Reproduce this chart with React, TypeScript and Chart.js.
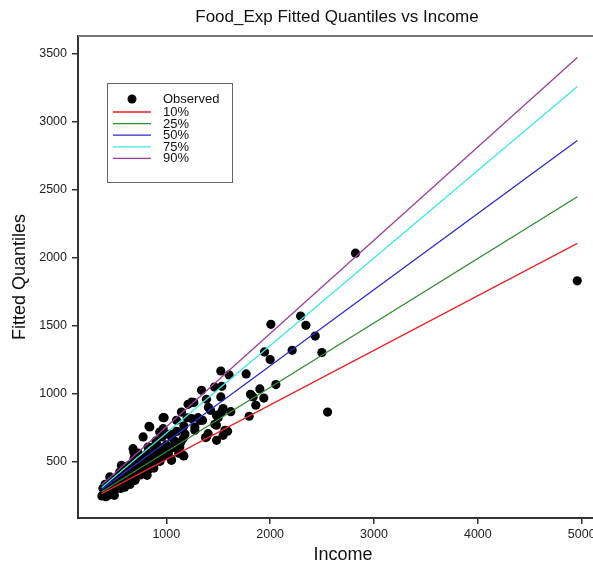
import React, { useEffect, useRef } from "react";
import { Chart, registerables } from "chart.js";

Chart.register(...registerables);

const FONT = "'Liberation Sans', Arial, Helvetica, sans-serif";

const chartTitle = "Food_Exp Fitted Quantiles vs Income";
const xTitle = "Income";
const yTitle = "Fitted Quantiles";

const xTicks = [1000, 2000, 3000, 4000, 5000];
const yTicks = [500, 1000, 1500, 2000, 2500, 3000, 3500];

// Observed points (income, food expenditure)
const incomeObs = [
  4957, 2822, 2007, 2293, 2344, 2434, 2498, 2212, 1946, 2000, 2553, 1769, 1525, 1605, 2055, 1901,
  1811, 1836, 1939, 1862, 1798, 1339, 1464, 1535, 1525, 1387, 1265, 1210, 1406, 1547, 1621, 1483,
  1306, 1146, 979, 1098, 834, 1169, 1275, 1349, 1467, 1403, 1378, 1547, 1590, 1169, 1050, 1098,
  937, 867, 815, 687, 713, 642, 568, 456, 391, 462, 1246, 1426, 1532, 969, 841, 1243, 1323, 1499,
  1483, 1564, 1387, 1484, 1275, 1162, 1050, 1130, 1162, 1050, 937, 906, 1002, 825, 777, 713, 680,
  400, 420, 440, 460, 480, 500, 510, 530, 540, 560, 580, 600, 610, 630, 650, 660, 680, 700, 720,
  740, 750, 770, 790, 800, 820, 840, 860, 880, 900, 920, 940, 960, 980, 1000, 390, 410, 430, 450,
  470, 490, 520, 550, 570, 590, 620, 640, 670, 690, 710, 730, 760, 780, 810, 830, 850, 870, 890,
  910, 950, 970, 990, 1020, 1040, 1080, 1100, 1120, 1180, 1200, 380, 420, 500, 560, 600, 650,
  620, 700, 760, 840, 880, 940, 1060, 1140,
];
const foodObs = [
  1827, 2030, 1507, 1568, 1500, 1421, 1299, 1316, 1304, 1248, 862, 1142, 1164, 1135, 1064, 1032,
  993, 973, 965, 912, 831, 1022, 1046, 1051, 973, 956, 932, 919, 895, 888, 865, 838,
  821, 862, 821, 801, 757, 760, 752, 801, 772, 703, 674, 691, 721, 539, 512, 605,
  520, 487, 397, 568, 495, 348, 471, 385, 250, 262, 936, 875, 862, 821, 752, 814, 801, 821,
  765, 728, 679, 654, 728, 667, 679, 605, 544, 507, 715, 630, 581, 605, 679, 556, 593,
  260, 290, 250, 300, 330, 290, 350, 320, 380, 340, 400, 360, 420, 390, 450, 410, 380, 470, 430,
  500, 400, 460, 520, 440, 560, 480, 600, 520, 650, 560, 600, 680, 540, 620, 300, 330, 270, 340,
  280, 370, 300, 420, 330, 440, 350, 470, 440, 520, 390, 560, 520, 430, 500, 440, 580, 470, 600,
  500, 560, 740, 700, 560, 700, 650, 720, 560, 700, 820, 245, 240, 250, 300, 310, 330,
  420, 360, 410, 530, 450, 500, 600, 640,
];

// Fitted quantile lines: endpoints
const lineIncome = [377, 4958];
const quantileLabels = ["10%", "25%", "50%", "75%", "90%"];
const quantileColors = ["#e8262a", "#2e8b2e", "#2a2ad0", "#3ee6e6", "#9a3fa0"];
const q10 = [262, 2102];
const q25 = [274, 2445];
const q50 = [293, 2858];
const q75 = [305, 3255];
const q90 = [326, 3469];
const quantileValues = [q10, q25, q50, q75, q90];

const decorPlugin = {
  id: "decor",
  afterDraw(chart: any) {
    const { ctx, chartArea } = chart;
    ctx.save();
    // top frame line
    ctx.strokeStyle = "#777";
    ctx.lineWidth = 2;
    ctx.beginPath();
    ctx.moveTo(chartArea.left, chartArea.top);
    ctx.lineTo(chartArea.right, chartArea.top);
    ctx.stroke();

    // title
    ctx.fillStyle = "#111";
    ctx.font = `17px ${FONT}`;
    ctx.textAlign = "center";
    ctx.textBaseline = "middle";
    ctx.fillText(chartTitle, 337, 17);

    // legend box
    ctx.strokeStyle = "#666";
    ctx.lineWidth = 1;
    ctx.strokeRect(107.5, 83.5, 125, 99);
    ctx.font = `13px ${FONT}`;
    ctx.textAlign = "left";
    ctx.fillStyle = "#000";
    ctx.beginPath();
    ctx.arc(132, 99, 4.5, 0, Math.PI * 2);
    ctx.fill();
    ctx.fillStyle = "#111";
    ctx.fillText("Observed", 163, 99);
    const ds = chart.data.datasets;
    for (let i = 1; i < ds.length; i++) {
      const y = 112 + (i - 1) * 11.6;
      ctx.strokeStyle = ds[i].borderColor;
      ctx.lineWidth = 1.3;
      ctx.beginPath();
      ctx.moveTo(113, y);
      ctx.lineTo(151, y);
      ctx.stroke();
      ctx.fillStyle = "#111";
      ctx.fillText(ds[i].label, 163, y + 0.5);
    }
    ctx.restore();
  },
};

export default function App() {
  const ref = useRef<HTMLCanvasElement | null>(null);

  useEffect(() => {
    if (!ref.current) return;
    const observed = incomeObs.map((x, i) => ({ x, y: foodObs[i] }));
    const lines = quantileLabels.map((label, i) => ({
      label,
      data: lineIncome.map((x, j) => ({ x, y: quantileValues[i][j] })),
      showLine: true,
      borderColor: quantileColors[i],
      backgroundColor: quantileColors[i],
      borderWidth: 1.3,
      pointRadius: 0,
      order: 0,
    }));
    const chart = new Chart(ref.current, {
      type: "scatter",
      data: {
        datasets: [
          {
            label: "Observed",
            data: observed,
            backgroundColor: "#000",
            borderColor: "#000",
            pointRadius: 4.6,
            borderWidth: 0,
            order: 1,
          },
          ...lines,
        ],
      },
      options: {
        responsive: false,
        animation: false,
        devicePixelRatio: 1,
        layout: { padding: { top: 36, right: 12, left: 0, bottom: 0 } },
        plugins: {
          legend: { display: false },
          title: { display: false },
          tooltip: { enabled: false },
        },
        scales: {
          x: {
            type: "linear",
            min: 150,
            max: 5253,
            afterBuildTicks: (s: any) => {
              s.ticks = xTicks.map((v) => ({ value: v }));
            },
            afterFit: (s: any) => {
              s.height = 51;
            },
            grid: {
              drawOnChartArea: false,
              drawTicks: true,
              tickLength: 6,
              tickColor: "#333",
              lineWidth: 1.5,
            },
            border: { display: true, color: "#333", width: 2 },
            ticks: {
              color: "#222",
              padding: 3,
              maxRotation: 0,
              font: { family: FONT, size: 12.5 },
              callback: (v: any) => String(v),
            },
            title: {
              display: true,
              text: xTitle,
              color: "#111",
              font: { family: FONT, size: 18 },
              padding: { top: 0, bottom: 3 },
            },
          },
          y: {
            type: "linear",
            min: 83,
            max: 3627,
            afterBuildTicks: (s: any) => {
              s.ticks = yTicks.map((v) => ({ value: v }));
            },
            afterFit: (s: any) => {
              s.width = 78;
            },
            grid: {
              drawOnChartArea: false,
              drawTicks: true,
              tickLength: 6,
              tickColor: "#333",
              lineWidth: 1.5,
            },
            border: { display: true, color: "#333", width: 2 },
            ticks: {
              color: "#222",
              padding: 5,
              font: { family: FONT, size: 12.5 },
              callback: (v: any) => String(v),
            },
            title: {
              display: true,
              text: yTitle,
              color: "#111",
              font: { family: FONT, size: 18 },
              padding: { top: 9, bottom: 0 },
            },
          },
        },
      },
      plugins: [decorPlugin],
    });
    return () => chart.destroy();
  }, []);

  return (
    <div
      style={{
        position: "absolute",
        left: 0,
        top: 0,
        width: 593,
        height: 569,
        overflow: "hidden",
        background: "#fff",
      }}
    >
      <canvas ref={ref} width={620} height={569} style={{ display: "block" }} />
    </div>
  );
}
